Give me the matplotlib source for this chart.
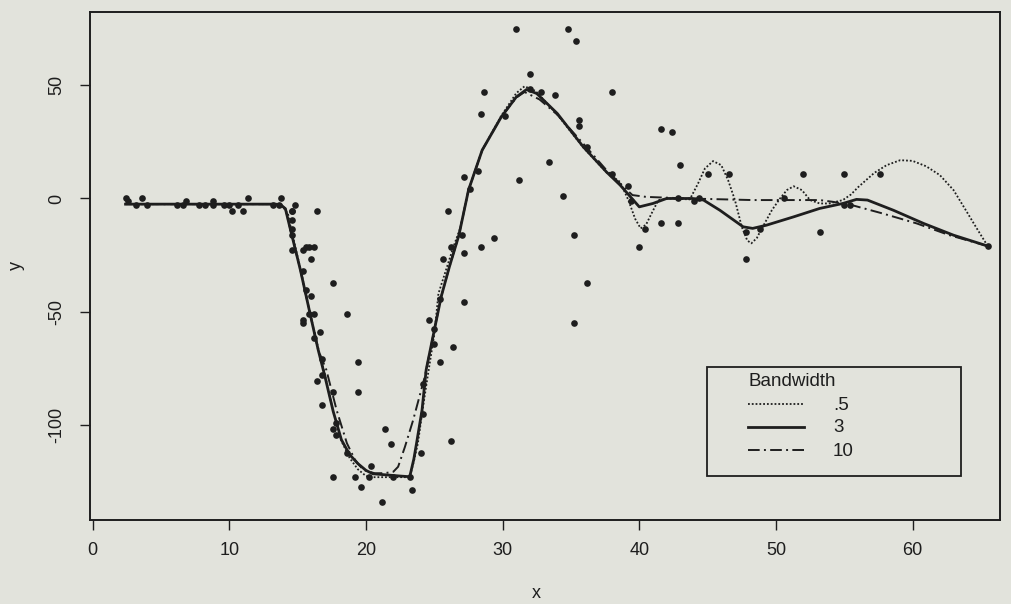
import matplotlib
matplotlib.use("Agg")
import matplotlib.pyplot as plt
from matplotlib.lines import Line2D
from matplotlib.patches import Rectangle

plt.rcParams['font.family'] = ['Liberation Sans', 'DejaVu Sans']
plt.rcParams['axes.unicode_minus'] = False

# ---- data: observed points ----
times = [2.4, 2.6, 3.2, 3.6, 4.0, 6.2, 6.6, 6.8, 7.8, 8.2,
         8.8, 8.8, 9.6, 10.0, 10.2, 10.6, 11.0, 11.4, 13.2, 13.6,
         13.8, 14.6, 14.6, 14.6, 14.6, 14.6, 14.6, 14.8, 15.4, 15.4,
         15.4, 15.4, 15.6, 15.6, 15.8, 15.8, 16.0, 16.0, 16.2, 16.2,
         16.2, 16.4, 16.4, 16.6, 16.8, 16.8, 16.8, 17.6, 17.6, 17.6,
         17.6, 17.8, 17.8, 18.6, 18.6, 19.2, 19.4, 19.4, 19.6, 20.2,
         20.4, 21.2, 21.4, 21.8, 22.0, 23.2, 23.4, 24.0, 24.2, 24.2,
         24.6, 25.0, 25.0, 25.4, 25.4, 25.6, 26.0, 26.2, 26.2, 26.4,
         27.0, 27.2, 27.2, 27.2, 27.6, 28.2, 28.4, 28.4, 28.6, 29.4,
         30.2, 31.0, 31.2, 32.0, 32.0, 32.8, 33.4, 33.8, 34.4, 34.8,
         35.2, 35.2, 35.4, 35.6, 35.6, 36.2, 36.2, 38.0, 38.0, 39.2,
         39.4, 40.0, 40.4, 41.6, 41.6, 42.4, 42.8, 42.8, 43.0, 44.0,
         44.4, 45.0, 46.6, 47.8, 47.8, 48.8, 50.6, 52.0, 53.2, 55.0,
         55.0, 55.4, 57.6, 65.5]
accel = [0.0, -1.3, -2.7, 0.0, -2.7, -2.7, -2.7, -1.3, -2.7, -2.7,
         -1.3, -2.7, -2.7, -2.7, -5.4, -2.7, -5.4, 0.0, -2.7, -2.7,
         0.0, -13.3, -5.4, -5.4, -9.3, -16.0, -22.8, -2.7, -22.8, -32.1,
         -53.5, -54.9, -40.2, -21.5, -21.5, -50.8, -42.9, -26.8, -21.5, -50.8,
         -61.7, -5.4, -80.4, -59.0, -71.0, -91.1, -77.7, -37.5, -85.6, -123.1,
         -101.9, -99.1, -104.4, -112.5, -50.8, -123.1, -85.6, -72.3, -127.2, -123.1,
         -117.9, -134.0, -101.9, -108.4, -123.1, -123.1, -128.5, -112.5, -95.1, -81.8,
         -53.5, -64.4, -57.6, -72.3, -44.3, -26.8, -5.4, -107.1, -21.5, -65.6,
         -16.0, -45.6, -24.2, 9.5, 4.0, 12.0, -21.5, 37.5, 46.9, -17.4,
         36.2, 75.0, 8.1, 54.9, 48.2, 46.9, 16.0, 45.6, 1.3, 75.0,
         -16.0, -54.9, 69.6, 34.8, 32.1, -37.5, 22.8, 46.9, 10.7, 5.4,
         -1.3, -21.5, -13.3, 30.8, -10.7, 29.4, 0.0, -10.7, 14.7, -1.3,
         0.0, 10.7, 10.7, -26.8, -14.7, -13.3, 0.0, 10.7, -14.7, -2.7,
         10.7, -2.7, 10.7, -21.0]

# ---- smoothed curves ----
bw05_x = [2.4, 13.4, 13.9, 14.3, 14.5, 15.2, 15.9, 16.5, 17.0, 17.6,
          18.2, 18.8, 19.4, 20.0, 20.5, 23.2, 23.5, 23.8, 24.1, 24.5,
          25.0, 25.3, 26.4, 26.9, 27.5, 28.0, 28.5, 29.9, 31.0, 31.6,
          32.4, 34.0, 35.9, 37.6, 38.6, 39.2, 39.7, 40.1, 40.5, 40.9,
          41.4, 42.2, 43.7, 44.3, 44.8, 45.4, 46.0, 46.5, 47.0, 47.5,
          47.9, 48.2, 48.6, 48.9, 49.7, 50.3, 50.8, 51.3, 51.9, 52.5,
          53.2, 53.9, 54.9, 55.5, 56.0, 57.2, 58.1, 59.1, 60.0, 61.0,
          62.0, 63.0, 63.9, 64.7, 65.5]
bw05_y = [-2.5, -2.5, -3.5, -7.0, -13.0, -31.0, -50.5, -66.0, -78.0, -94.0,
          -107.0, -114.5, -119.5, -122.5, -123.0, -123.0, -116.0, -108.0, -95.0, -79.0,
          -60.0, -42.0, -21.3, -13.0, 3.7, 12.5, 21.3, 36.5, 46.5, 49.5,
          47.5, 37.0, 22.5, 11.5, 7.3, -0.7, -9.0, -13.2, -11.5, -6.6,
          -0.7, 0.0, -0.4, 6.6, 13.2, 16.5, 14.7, 8.1, -0.7, -12.5,
          -18.5, -19.8, -17.5, -14.0, -5.2, 0.0, 3.7, 5.4, 3.7, -0.7,
          -2.2, -2.2, -0.7, 1.8, 4.9, 11.3, 14.7, 16.9, 16.6, 14.2,
          10.3, 3.7, -5.2, -13.2, -21.0]

bw3_x = [2.4, 13.4, 13.8, 14.1, 14.4, 15.2, 15.9, 16.5, 17.0, 17.6,
         18.2, 18.8, 19.4, 20.0, 20.5, 21.5, 22.5, 23.2, 23.5, 23.7,
         24.1, 24.4, 24.9, 25.5, 26.1, 26.8, 27.5, 28.0, 28.5, 29.9,
         31.0, 31.75, 32.5, 34.0, 35.9, 37.6, 38.6, 40.0, 41.0, 42.0,
         43.9, 44.7, 45.9, 47.6, 48.3, 49.3, 51.3, 53.2, 54.9, 55.9,
         56.7, 58.6, 60.8, 63.0, 65.5]
bw3_y = [-2.5, -2.5, -3.0, -4.5, -12.0, -31.6, -50.7, -66.8, -78.7, -94.0,
         -106.5, -113.0, -117.0, -120.0, -121.5, -122.0, -122.5, -122.8, -115.0, -108.0,
         -93.4, -75.7, -61.0, -43.4, -30.2, -16.2, 3.7, 12.5, 21.3, 36.0,
         44.8, 48.1, 46.3, 37.5, 22.8, 11.7, 5.9, -3.7, -2.2, 0.0,
         0.0, -0.7, -5.2, -12.5, -13.2, -11.8, -8.1, -4.4, -2.2, -0.4,
         -0.7, -5.2, -11.0, -16.2, -21.0]

bw10_x = [2.4, 13.4, 13.8, 14.1, 14.4, 15.2, 15.9, 16.5, 17.1, 17.85,
          18.6, 19.2, 19.8, 20.65, 21.4, 22.0, 22.35, 22.85, 23.45, 24.3,
          24.9, 25.5, 26.1, 26.8, 27.5, 28.0, 28.5, 29.9, 31.0, 31.6,
          32.7, 34.0, 36.0, 37.6, 38.6, 39.5, 40.5, 43.5, 48.3, 53.2,
          54.2, 55.6, 57.8, 60.3, 62.7, 65.5]
bw10_y = [-2.5, -2.5, -3.0, -4.5, -12.0, -31.6, -50.7, -66.8, -75.7, -93.4,
          -108.0, -115.4, -119.8, -121.3, -121.2, -120.6, -118.4, -109.6, -97.8, -78.7,
          -61.0, -43.4, -30.2, -16.2, 3.7, 12.5, 21.3, 36.0, 44.5, 47.0,
          43.7, 37.0, 23.5, 12.5, 6.5, 1.5, 0.7, 0.0, -0.7, -0.7,
          -1.5, -3.0, -6.6, -11.0, -16.2, -21.0]

legend_title = "Bandwidth"
legend_labels = [".5", "3", "10"]
x_ticks = [0, 10, 20, 30, 40, 50, 60]
y_ticks = [-100, -50, 0, 50]

# ---- figure ----
W, H = 1012, 604
bg = '#e2e3dc'
ink = '#1e1e1e'
fig = plt.figure(figsize=(W / 100, H / 100), dpi=100)
fig.patch.set_facecolor(bg)
ax = fig.add_axes([90 / W, 1 - 520 / H, 910 / W, 508 / H])
ax.set_facecolor(bg)

ax.plot(times, accel, 'o', ms=4.8, color=ink, mec=ink, mew=0, zorder=3)
styles = [
    dict(ls=(0, (1, 1.1)), lw=1.3),
    dict(ls='-', lw=2.0),
    dict(ls=(0, (6, 2.2, 1, 2.2)), lw=1.4),
]
l1, = ax.plot(bw05_x, bw05_y, color=ink, **styles[0])
l2, = ax.plot(bw3_x, bw3_y, color=ink, **styles[1])
l3, = ax.plot(bw10_x, bw10_y, color=ink, **styles[2])

ax.set_xlim(-0.2, 66.4)
ax.set_ylim(-141.9, 82.3)
ax.set_xticks(x_ticks)
ax.set_yticks(y_ticks)
ax.set_xticklabels([str(t) for t in x_ticks])
ax.set_yticklabels([str(t) for t in y_ticks])
for s in ax.spines.values():
    s.set_color(ink)
    s.set_linewidth(1.4)
ax.tick_params(direction='out', length=7.5, width=1.0, colors=ink,
               labelsize=13, pad=8)
ax.tick_params(axis='y', pad=10)
for lab in ax.get_yticklabels():
    lab.set_rotation(90)
    lab.set_va('center')

ax.set_xlabel('x', fontsize=13, color=ink)
ax.set_ylabel('y', fontsize=13, color=ink)
ax.xaxis.set_label_coords(0.49, -0.128)
ax.yaxis.set_label_coords(-0.072, 0.5)

# ---- legend box (drawn in figure pixel space) ----
def fx(px):
    return px / W

def fy(py):
    return 1 - py / H

fig.patches.append(Rectangle((fx(707), fy(476)), fx(961) - fx(707), fy(367) - fy(476),
                             transform=fig.transFigure, fill=True, facecolor=bg,
                             edgecolor=ink, lw=1.3, zorder=5))
fig.text(fx(749), fy(382), legend_title, fontsize=13.5, color=ink,
         ha='left', va='center', zorder=6)
row_y = [404, 427, 450]
for st, lab, ry in zip(styles, legend_labels, row_y):
    fig.add_artist(Line2D([fx(748), fx(804)], [fy(ry), fy(ry)], color=ink,
                          transform=fig.transFigure, zorder=6, **st))
    fig.text(fx(833), fy(ry + 1), lab, fontsize=13.5, color=ink,
             ha='left', va='center', zorder=6)

fig.savefig('out.png', dpi=100, facecolor=bg)
